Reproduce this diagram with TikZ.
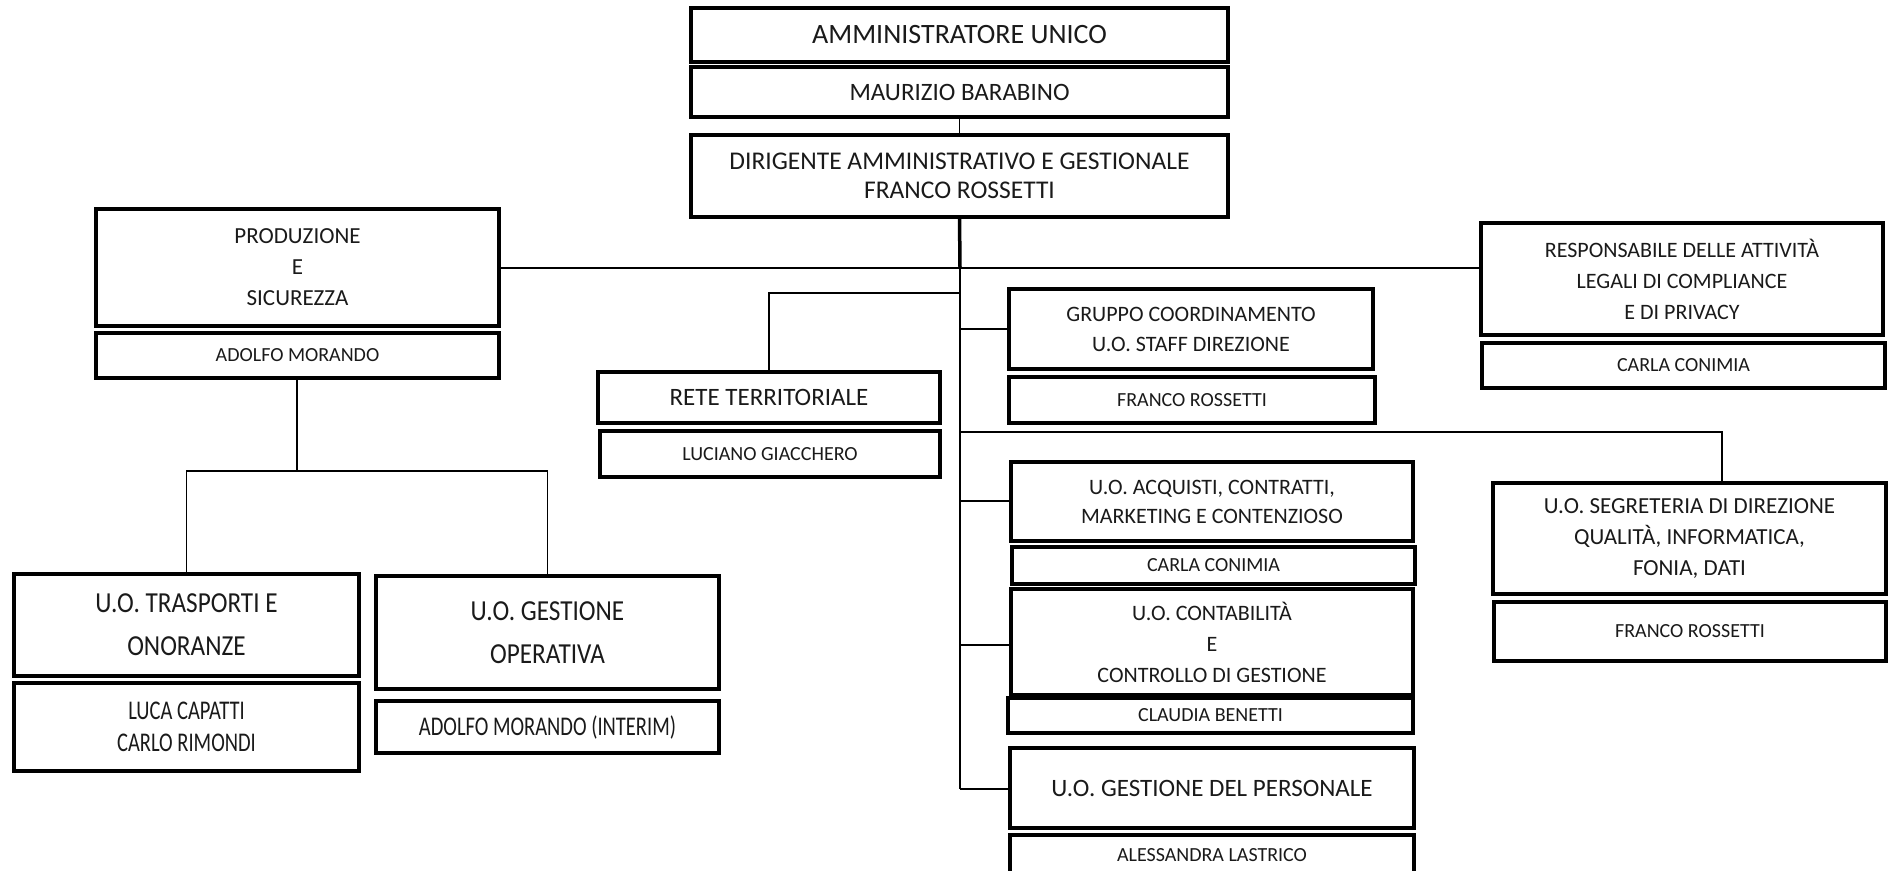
\documentclass[tikz,border=0pt]{standalone}
\usepackage{fontspec}
\setmainfont{Carlito}
\newfontfamily\condA[FakeStretch=0.76]{Carlito}
\newfontfamily\condB[FakeStretch=0.87]{Carlito}
\definecolor{txt}{HTML}{1A1A1A}
\tikzset{
  box/.style={draw=black, line width=3.3pt, inner sep=0pt, outer sep=0pt, align=center, text=txt, fill=white},
  conn/.style={draw=black, line width=1.4pt},
  trunk/.style={draw=black, line width=3.5pt}
}
\newcommand\bx[7]{\node[box, minimum width={(#4-#2)*1pt}, minimum height={(#5-#3)*1pt}, font=#6] (#1) at ({(#2+#4)/2},{(#3+#5)/2}) {#7};}
\begin{document}
\begin{tikzpicture}[x=1pt,y=-1pt]
\useasboundingbox (0,0) rectangle (1892,870);
% top chain
\bx{amm}{691}{8}{1228}{62}{\fontsize{28}{32}\selectfont}{AMMINISTRATORE UNICO}
\bx{maur}{691}{67}{1228}{117}{\fontsize{25}{30}\selectfont}{MAURIZIO BARABINO}
\bx{dir}{691}{135}{1228}{217}{\fontsize{25.5}{29}\selectfont}{DIRIGENTE AMMINISTRATIVO E GESTIONALE\\FRANCO ROSSETTI}
% left branch
\bx{prod}{96}{209}{499}{326}{\fontsize{23}{31}\selectfont}{PRODUZIONE\\E\\SICUREZZA}
\bx{adolfo}{96}{333}{499}{378}{\fontsize{20}{24}\selectfont}{ADOLFO MORANDO}
\bx{trasp}{14}{574}{359}{676}{\condB\fontsize{29}{43}\selectfont}{U.O. TRASPORTI E\\ONORANZE}
\bx{luca}{14}{683}{359}{771}{\condA\fontsize{27}{32}\selectfont}{LUCA CAPATTI\\CARLO RIMONDI}
\bx{gestop}{376}{576}{719}{689}{\condB\fontsize{29}{43}\selectfont}{U.O. GESTIONE\\OPERATIVA}
\bx{adolfoint}{376}{701}{719}{753}{\condA\fontsize{27}{32}\selectfont}{ADOLFO MORANDO (INTERIM)}
% rete
\bx{rete}{598}{372}{940}{423}{\fontsize{25}{30}\selectfont}{RETE TERRITORIALE}
\bx{luciano}{600}{431}{940}{477}{\fontsize{20}{24}\selectfont}{LUCIANO GIACCHERO}
% right side
\bx{resp}{1481}{223}{1883}{335}{\fontsize{22}{31}\selectfont}{RESPONSABILE DELLE ATTIVITÀ\\LEGALI DI COMPLIANCE\\E DI PRIVACY}
\bx{carla}{1482}{343}{1885}{388}{\fontsize{20}{24}\selectfont}{CARLA CONIMIA}
\bx{gruppo}{1009}{289}{1373}{369}{\fontsize{22}{30}\selectfont}{GRUPPO COORDINAMENTO\\U.O. STAFF DIREZIONE}
\bx{franco}{1009}{377}{1375}{423}{\fontsize{20}{24}\selectfont}{FRANCO ROSSETTI}
\bx{acq}{1011}{462}{1413}{541}{\fontsize{22}{29}\selectfont}{U.O. ACQUISTI, CONTRATTI,\\MARKETING E CONTENZIOSO}
\bx{carlab}{1012}{547}{1415}{584}{\fontsize{20}{24}\selectfont}{CARLA CONIMIA}
\bx{contab}{1011}{589}{1413}{695}{\fontsize{22}{31}\selectfont}{U.O. CONTABILITÀ\\E\\CONTROLLO DI GESTIONE}
\bx{claudia}{1008}{698}{1413}{733}{\fontsize{20}{24}\selectfont}{CLAUDIA BENETTI}
\bx{pers}{1010}{748}{1414}{828}{\fontsize{25}{30}\selectfont}{U.O. GESTIONE DEL PERSONALE}
\bx{aless}{1010}{835}{1414}{885}{\fontsize{20}{24}\selectfont}{\raisebox{10pt}{ALESSANDRA LASTRICO}}
\bx{segr}{1493}{483}{1886}{594}{\fontsize{23}{31}\selectfont}{U.O. SEGRETERIA DI DIREZIONE\\QUALITÀ, INFORMATICA,\\FONIA, DATI}
\bx{francob}{1494}{602}{1886}{661}{\fontsize{20}{24}\selectfont}{FRANCO ROSSETTI}
% junction coordinates
\coordinate (jh) at (960,268);
\coordinate (jrete) at (960,293);
\coordinate (jgru) at (960,329);
\coordinate (jsegr) at (960,432);
\coordinate (jacq) at (960,501);
\coordinate (jcont) at (960,645);
\coordinate (jpers) at (960,789);
\coordinate (jleft) at (297,471);
% connectors
\draw[conn] (maur.south) -- (dir.north);
\draw[trunk] (dir.south) -- (jh);
\draw[conn] (prod.east |- jh) -- (resp.west |- jh);
\draw[conn] (jh) -- (jpers);
\draw[conn] (jrete) -- (769,293) -- (rete.north -| 769,0);
\draw[conn] (jgru) -- (gruppo.west |- jgru);
\draw[conn] (jsegr) -- (1722,432) -- (segr.north -| 1722,0);
\draw[conn] (jacq) -- (acq.west |- jacq);
\draw[conn] (jcont) -- (contab.west |- jcont);
\draw[conn] (jpers) -- (pers.west |- jpers);
\draw[conn] (adolfo.south -| jleft) -- (jleft);
\draw[conn] (trasp.north) -- (trasp.north |- jleft) -- (gestop.north |- jleft) -- (gestop.north);
\end{tikzpicture}
\end{document}
